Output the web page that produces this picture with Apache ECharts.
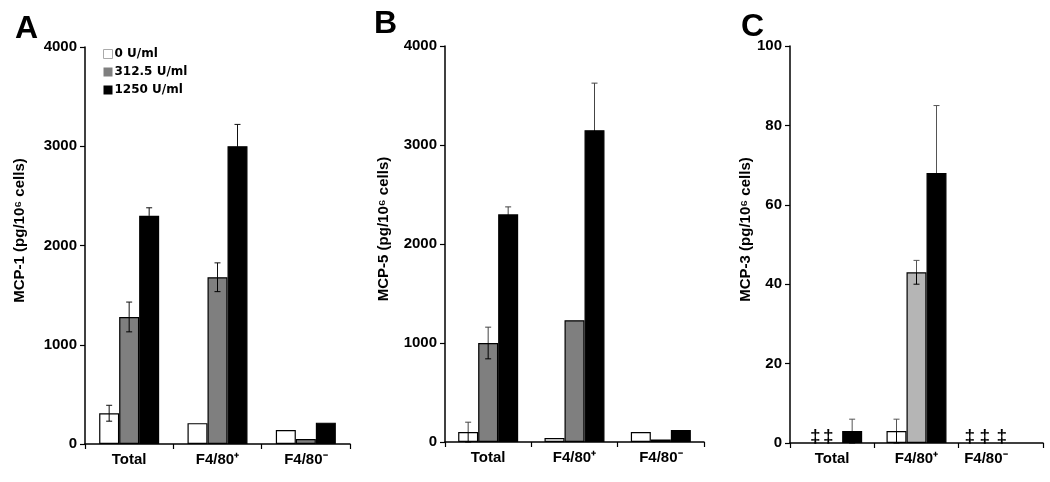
<!DOCTYPE html>
<html>
<head>
<meta charset="utf-8">
<script src="https://cdn.jsdelivr.net/npm/echarts@6/dist/echarts.min.js"></script>
<style>
  html, body { margin: 0; padding: 0; background: #fff; }
  #chart { width: 1050px; height: 482px; }
</style>
</head>
<body>
<div id="chart"></div>
<script>
const categories = ['Total', 'F4/80⁺', 'F4/80⁻'];
const doses = ['0 U/ml', '312.5 U/ml', '1250 U/ml'];

// A: MCP-1
const mcp1Zero = [310, 210, 140];
const mcp1Mid = [1280, 1680, 50];
const mcp1High = [2300, 3000, 215];
const mcp1ZeroErr = [80, 0, 0];
const mcp1MidErr = [150, 145, 0];
const mcp1HighErr = [80, 220, 0];

// B: MCP-5
const mcp5Zero = [100, 40, 100];
const mcp5Mid = [1000, 1230, 25];
const mcp5High = [2300, 3150, 120];
const mcp5ZeroErr = [100, 0, 0];
const mcp5MidErr = [160, 0, 0];
const mcp5HighErr = [75, 475, 0];

// C: MCP-3 (null = not detected, drawn as ‡)
const mcp3Zero = [null, 3, null];
const mcp3Mid = [null, 43, null];
const mcp3High = [3, 68, null];
const mcp3ZeroErr = [0, 3, 0];
const mcp3MidErr = [0, 3, 0];
const mcp3HighErr = [3, 17, 0];

const yTicksAB = [0, 1000, 2000, 3000, 4000];
const yTicksC = [0, 20, 40, 60, 80, 100];

const BAR_W = 20;
const FONT = '"Liberation Sans", Arial, sans-serif';

const panels = [
  { name: 'MCP-1 (pg/10⁶ cells)', vals: [mcp1Zero, mcp1Mid, mcp1High], errs: [mcp1ZeroErr, mcp1MidErr, mcp1HighErr],
    ticks: yTicksAB, grey: '#7f7f7f', errColor: '#111', nameGap: 58, labelPad: [0, 0, 0, 0],
    grid: { left: 85, top: 47, width: 265, height: 397 } },
  { name: 'MCP-5 (pg/10⁶ cells)', vals: [mcp5Zero, mcp5Mid, mcp5High], errs: [mcp5ZeroErr, mcp5MidErr, mcp5HighErr],
    ticks: yTicksAB, grey: '#7f7f7f', errColor: '#444', nameGap: 54, labelPad: [0, 0, 0, 0],
    grid: { left: 445, top: 46, width: 259, height: 396 } },
  { name: 'MCP-3 (pg/10⁶ cells)', vals: [mcp3Zero, mcp3Mid, mcp3High], errs: [mcp3ZeroErr, mcp3MidErr, mcp3HighErr],
    ticks: yTicksC, grey: '#b5b5b5', errColor: '#555', nameGap: 28, labelPad: [0, 30, 0, 0],
    grid: { left: 790, top: 46, width: 253, height: 397 } }
];

// label shifts for the ‡ markers [category][dose]
const ndShift = [[3, -4, 0], [0, 0, 0], [-11, -16, -19]];

const grids = [], xAxes = [], yAxes = [], series = [];

panels.forEach((p, pi) => {
  grids.push(p.grid);
  xAxes.push({
    type: 'category', gridIndex: pi,
    data: categories.map((c, i) => i === 2 ? { value: c, textStyle: { padding: p.labelPad } } : c),
    axisLine: { lineStyle: { color: '#000', width: 1.5 } },
    axisTick: { show: true, length: 5, lineStyle: { color: '#000', width: 1.2 } },
    axisLabel: { color: '#000', fontFamily: FONT, fontWeight: 'bold', fontSize: 15, margin: 8 }
  });
  const t = p.ticks;
  yAxes.push({
    type: 'value', gridIndex: pi, min: t[0], max: t[t.length - 1], interval: t[1] - t[0],
    name: p.name, nameLocation: 'middle', nameGap: p.nameGap,
    nameTextStyle: { color: '#000', fontFamily: FONT, fontWeight: 'bold', fontSize: 15, padding: [0, 0, 0, 30] },
    axisLine: { show: true, lineStyle: { color: '#000', width: 1.5 } },
    axisTick: { show: true, length: 5, lineStyle: { color: '#000', width: 1.2 } },
    axisLabel: { color: '#000', fontFamily: FONT, fontWeight: 'bold', fontSize: 15, margin: 8,
      formatter: v => String(v) },
    splitLine: { show: false }
  });
  const fills = ['#ffffff', p.grey, '#000000'];
  p.vals.forEach((arr, di) => {
    series.push({
      name: doses[di], type: 'bar', xAxisIndex: pi, yAxisIndex: pi,
      barWidth: BAR_W, barGap: '0%',
      itemStyle: { color: fills[di], borderColor: '#000', borderWidth: 1.2 },
      data: arr.map((v, ci) => v === null ? {
        value: 0,
        itemStyle: { borderWidth: 0, opacity: 0 },
        label: { show: true, position: 'top', distance: 0, formatter: '‡', color: '#000', opacity: 1,
          fontFamily: FONT, fontWeight: 'bold', fontSize: 19, offset: [ndShift[ci][di], 3] }
      } : v)
    });
  });
  const errData = [];
  p.errs.forEach((arr, di) => arr.forEach((e, ci) => {
    const v = p.vals[di][ci];
    if (v !== null && e > 0) errData.push([ci, di, v, e]);
  }));
  series.push({
    type: 'custom', xAxisIndex: pi, yAxisIndex: pi, z: 5, silent: true,
    data: errData,
    renderItem: (params, api) => {
      const ci = api.value(0), di = api.value(1), mean = api.value(2), err = api.value(3);
      const mid = api.coord([ci, mean]);
      const top = api.coord([ci, mean + err]);
      const bot = api.coord([ci, Math.max(0, mean - err)]);
      const x = top[0] + (di - 1) * BAR_W;
      const up = { stroke: p.errColor, lineWidth: 1 };
      const down = { stroke: '#000', lineWidth: 1 };
      return {
        type: 'group',
        children: [
          { type: 'line', shape: { x1: x, y1: top[1], x2: x, y2: mid[1] }, style: up },
          { type: 'line', shape: { x1: x - 3, y1: top[1], x2: x + 3, y2: top[1] }, style: up },
          { type: 'line', shape: { x1: x, y1: mid[1], x2: x, y2: bot[1] }, style: down },
          { type: 'line', shape: { x1: x - 3, y1: bot[1], x2: x + 3, y2: bot[1] }, style: down }
        ]
      };
    }
  });
});

const chart = echarts.init(document.getElementById('chart'));
chart.setOption({
  animation: false,
  backgroundColor: '#fff',
  title: [
    { text: 'A', left: 10, top: 8 },
    { text: 'B', left: 369, top: 3 },
    { text: 'C', left: 736, top: 6 }
  ].map(o => Object.assign(o, { textStyle: { fontFamily: FONT, fontWeight: 'bold', fontSize: 32, color: '#000' } })),
  legend: {
    orient: 'vertical', left: 103, top: 48, padding: 0, itemWidth: 9, itemHeight: 9, itemGap: 6,
    selectedMode: false, icon: 'rect',
    textStyle: { fontFamily: 'DejaVu Sans', fontWeight: 'bold', fontSize: 12, color: '#000', padding: [0, 0, 0, -3] },
    data: [
      { name: doses[0], itemStyle: { color: '#fff', borderColor: '#aaa', borderWidth: 1 } },
      { name: doses[1], itemStyle: { borderWidth: 0 } },
      { name: doses[2], itemStyle: { borderWidth: 0 } }
    ]
  },
  grid: grids,
  xAxis: xAxes,
  yAxis: yAxes,
  series: series
});
</script>
</body>
</html>
